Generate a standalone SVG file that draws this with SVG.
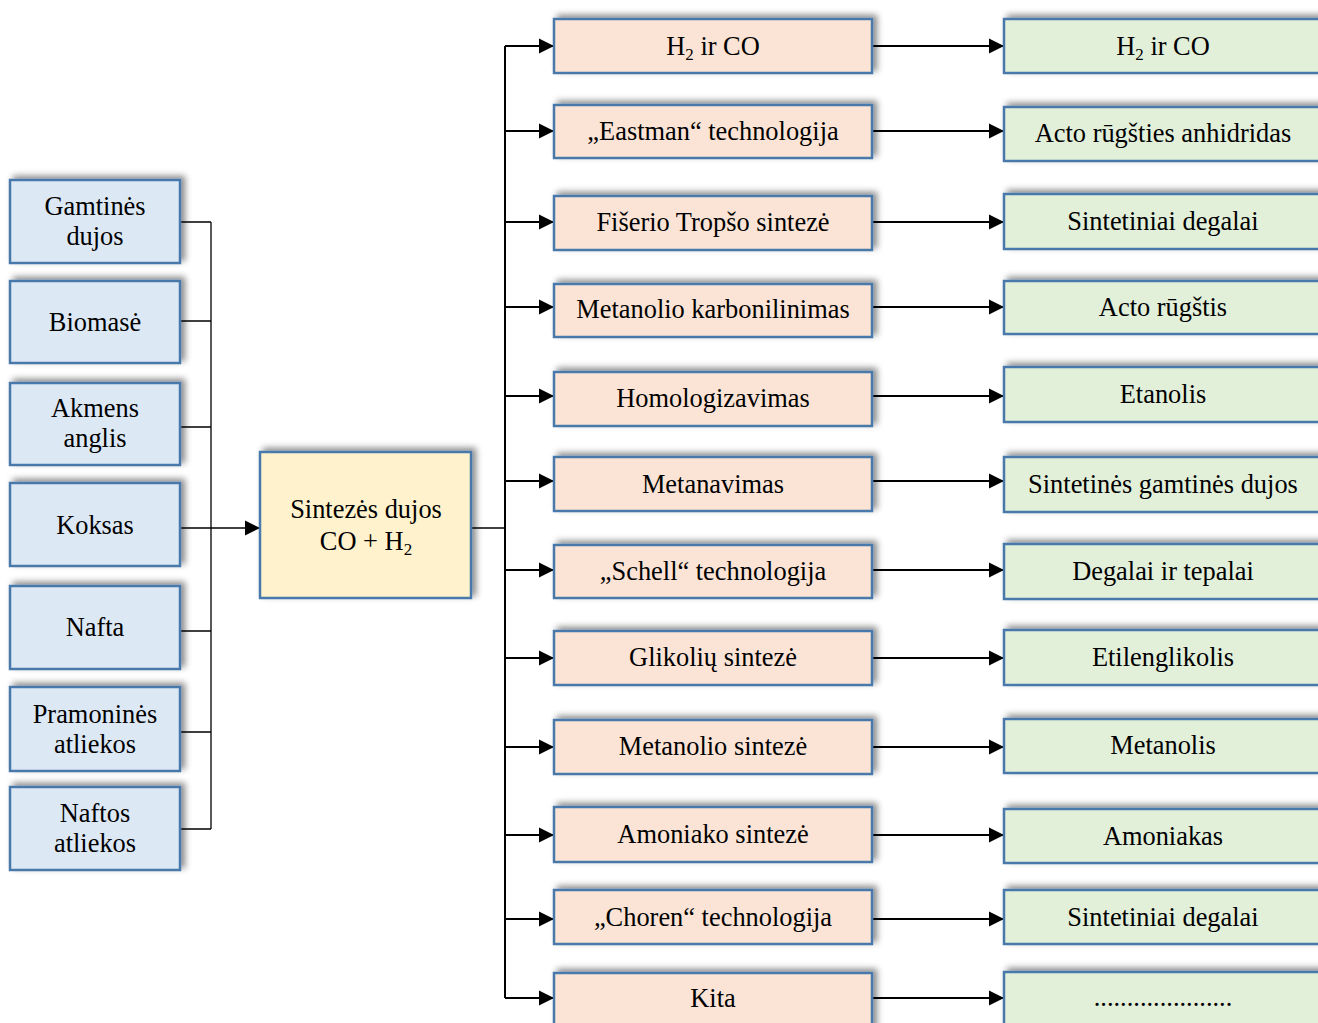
<svg xmlns="http://www.w3.org/2000/svg" width="1318" height="1023" viewBox="0 0 1318 1023">
<style>
text{font-family:"Liberation Serif","Times New Roman",serif;font-size:26.4px;fill:#000;text-anchor:middle}
.box{stroke:#4a78ab;stroke-width:2.5;filter:url(#sh)}
.src{fill:#dde8f5}
.syn{fill:#fff2cc}
.proc{fill:#fbe4d5}
.prod{fill:#e2efd9}
.thin{stroke:#000;stroke-width:1.3;fill:none}
.thick{stroke:#000;stroke-width:2;fill:none}
.sub{font-size:17px}
</style>
<defs>
<filter id="sh" x="-10%" y="-30%" width="125%" height="160%">
<feDropShadow dx="4" dy="-3" stdDeviation="3" flood-color="#000" flood-opacity="0.45"/>
</filter>
<marker id="ah" markerUnits="userSpaceOnUse" markerWidth="16" markerHeight="16" viewBox="0 0 16 16" refX="15" refY="8" orient="auto">
<path d="M0,0.5 L15,8 L0,15.5 Z" fill="#000"/>
</marker>
</defs>
<rect width="1318" height="1023" fill="#fff"/>

<g id="connectors">
<path class="thin" d="M180,222H211M180,321H211M180,427H211M180,528H211M180,631H211M180,732H211M180,829H211M211,222V829"/>
<path class="thin" d="M211,528H260" marker-end="url(#ah)"/>
<path class="thin" d="M471,528H505"/>
<path class="thick" d="M505,46V998"/>
<path class="thick" d="M505,46H554" marker-end="url(#ah)"/>
<path class="thick" d="M505,131H554" marker-end="url(#ah)"/>
<path class="thick" d="M505,222H554" marker-end="url(#ah)"/>
<path class="thick" d="M505,307H554" marker-end="url(#ah)"/>
<path class="thick" d="M505,396H554" marker-end="url(#ah)"/>
<path class="thick" d="M505,481H554" marker-end="url(#ah)"/>
<path class="thick" d="M505,570H554" marker-end="url(#ah)"/>
<path class="thick" d="M505,658H554" marker-end="url(#ah)"/>
<path class="thick" d="M505,747H554" marker-end="url(#ah)"/>
<path class="thick" d="M505,835H554" marker-end="url(#ah)"/>
<path class="thick" d="M505,919H554" marker-end="url(#ah)"/>
<path class="thick" d="M505,998H554" marker-end="url(#ah)"/>
<path class="thick" d="M872,46H1004" marker-end="url(#ah)"/>
<path class="thick" d="M872,131H1004" marker-end="url(#ah)"/>
<path class="thick" d="M872,222H1004" marker-end="url(#ah)"/>
<path class="thick" d="M872,307H1004" marker-end="url(#ah)"/>
<path class="thick" d="M872,396H1004" marker-end="url(#ah)"/>
<path class="thick" d="M872,481H1004" marker-end="url(#ah)"/>
<path class="thick" d="M872,570H1004" marker-end="url(#ah)"/>
<path class="thick" d="M872,658H1004" marker-end="url(#ah)"/>
<path class="thick" d="M872,747H1004" marker-end="url(#ah)"/>
<path class="thick" d="M872,835H1004" marker-end="url(#ah)"/>
<path class="thick" d="M872,919H1004" marker-end="url(#ah)"/>
<path class="thick" d="M872,998H1004" marker-end="url(#ah)"/>
</g>

<!-- sources -->
<g id="src1"><rect class="box src" x="10" y="180" width="170" height="83"/><text x="95" y="215">Gamtinės</text><text x="95" y="245">dujos</text></g>
<g id="src2"><rect class="box src" x="10" y="281" width="170" height="82"/><text x="95" y="331">Biomasė</text></g>
<g id="src3"><rect class="box src" x="10" y="383" width="170" height="82"/><text x="95" y="417">Akmens</text><text x="95" y="447">anglis</text></g>
<g id="src4"><rect class="box src" x="10" y="483" width="170" height="83"/><text x="95" y="534">Koksas</text></g>
<g id="src5"><rect class="box src" x="10" y="586" width="170" height="83"/><text x="95" y="636">Nafta</text></g>
<g id="src6"><rect class="box src" x="10" y="687" width="170" height="84"/><text x="95" y="723">Pramoninės</text><text x="95" y="753">atliekos</text></g>
<g id="src7"><rect class="box src" x="10" y="787" width="170" height="83"/><text x="95" y="822">Naftos</text><text x="95" y="852">atliekos</text></g>

<!-- syngas -->
<g id="syngas"><rect class="box syn" x="260" y="452" width="211" height="146"/><text x="366" y="518">Sintezės dujos</text><text x="366" y="550">CO + H<tspan class="sub" dy="5">2</tspan></text></g>

<!-- processes -->
<g id="p1"><rect class="box proc" x="554" y="19" width="318" height="54"/><text x="713" y="55">H<tspan class="sub" dy="5">2</tspan><tspan dy="-5"> ir CO</tspan></text></g>
<g id="p2"><rect class="box proc" x="554" y="105" width="318" height="53"/><text x="713" y="140">„Eastman“ technologija</text></g>
<g id="p3"><rect class="box proc" x="554" y="196" width="318" height="54"/><text x="713" y="231">Fišerio Tropšo sintezė</text></g>
<g id="p4"><rect class="box proc" x="554" y="284" width="318" height="53"/><text x="713" y="318">Metanolio karbonilinimas</text></g>
<g id="p5"><rect class="box proc" x="554" y="372" width="318" height="54"/><text x="713" y="407">Homologizavimas</text></g>
<g id="p6"><rect class="box proc" x="554" y="457" width="318" height="54"/><text x="713" y="493">Metanavimas</text></g>
<g id="p7"><rect class="box proc" x="554" y="545" width="318" height="53"/><text x="713" y="580">„Schell“ technologija</text></g>
<g id="p8"><rect class="box proc" x="554" y="631" width="318" height="54"/><text x="713" y="666">Glikolių sintezė</text></g>
<g id="p9"><rect class="box proc" x="554" y="720" width="318" height="54"/><text x="713" y="755">Metanolio sintezė</text></g>
<g id="p10"><rect class="box proc" x="554" y="807" width="318" height="55"/><text x="713" y="843">Amoniako sintezė</text></g>
<g id="p11"><rect class="box proc" x="554" y="890" width="318" height="54"/><text x="713" y="926">„Choren“ technologija</text></g>
<g id="p12"><rect class="box proc" x="554" y="973" width="318" height="60"/><text x="713" y="1007">Kita</text></g>

<!-- products -->
<g id="r1"><rect class="box prod" x="1004" y="19" width="320" height="54"/><text x="1163" y="55">H<tspan class="sub" dy="5">2</tspan><tspan dy="-5"> ir CO</tspan></text></g>
<g id="r2"><rect class="box prod" x="1004" y="107" width="320" height="54"/><text x="1163" y="142">Acto rūgšties anhidridas</text></g>
<g id="r3"><rect class="box prod" x="1004" y="194" width="320" height="55"/><text x="1163" y="230">Sintetiniai degalai</text></g>
<g id="r4"><rect class="box prod" x="1004" y="281" width="320" height="53"/><text x="1163" y="316">Acto rūgštis</text></g>
<g id="r5"><rect class="box prod" x="1004" y="367" width="320" height="55"/><text x="1163" y="403">Etanolis</text></g>
<g id="r6"><rect class="box prod" x="1004" y="457" width="320" height="55"/><text x="1163" y="493">Sintetinės gamtinės dujos</text></g>
<g id="r7"><rect class="box prod" x="1004" y="544" width="320" height="55"/><text x="1163" y="580">Degalai ir tepalai</text></g>
<g id="r8"><rect class="box prod" x="1004" y="630" width="320" height="55"/><text x="1163" y="666">Etilenglikolis</text></g>
<g id="r9"><rect class="box prod" x="1004" y="719" width="320" height="54"/><text x="1163" y="754">Metanolis</text></g>
<g id="r10"><rect class="box prod" x="1004" y="809" width="320" height="54"/><text x="1163" y="845">Amoniakas</text></g>
<g id="r11"><rect class="box prod" x="1004" y="890" width="320" height="54"/><text x="1163" y="926">Sintetiniai degalai</text></g>
<g id="r12"><rect class="box prod" x="1004" y="972" width="320" height="60"/><text x="1163" y="1006">.....................</text></g>
</svg>
